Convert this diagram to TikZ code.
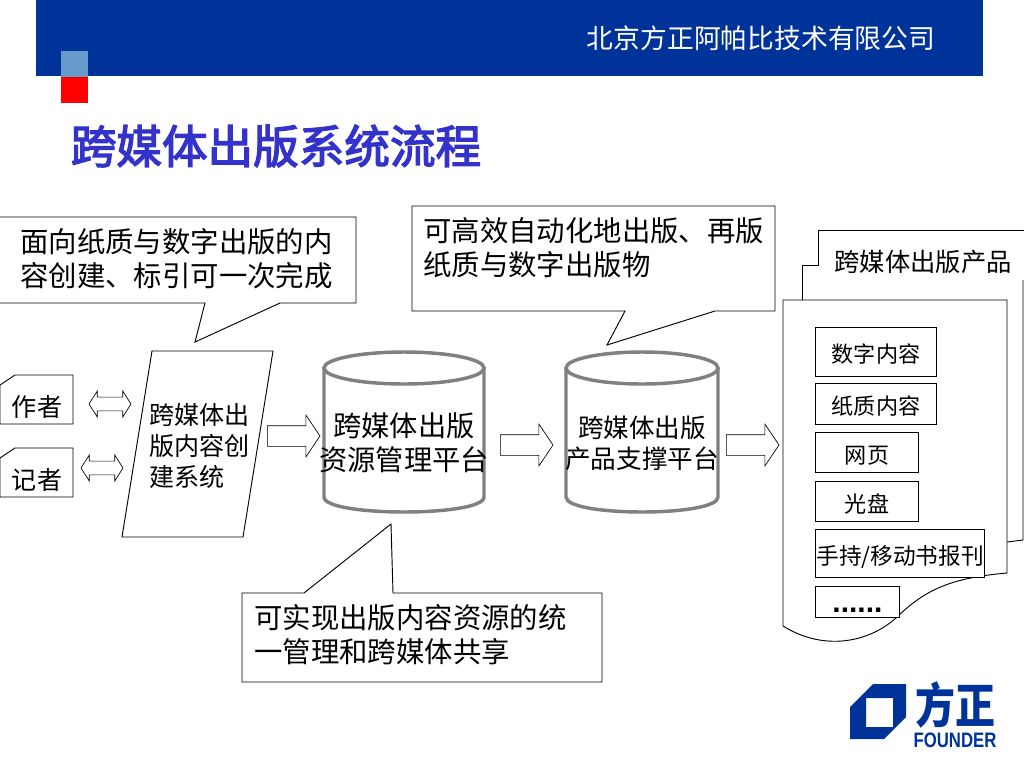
\documentclass[tikz,border=0pt]{standalone}
\usepackage{graphicx}
\usepackage{fontspec}
\setmainfont{Noto Sans CJK SC}
\newfontfamily\logofont{Liberation Sans}
\newfontfamily\titlefont[FakeBold=3]{Noto Sans CJK SC}
\usetikzlibrary{shapes.arrows}
\definecolor{barblue}{RGB}{0,51,153}
\definecolor{lightsq}{RGB}{102,153,204}
\definecolor{titleblue}{RGB}{51,51,204}
\definecolor{cylgray}{RGB}{128,128,128}
\tikzset{
  big/.style={inner sep=0pt,align=left,font=\fontsize{21.3}{25.5}\selectfont},
  mid/.style={inner sep=0pt,align=center,font=\fontsize{19.2}{23.2}\selectfont},
  outline/.style={draw=black,line width=0.7pt,fill=white},
  cylline/.style={draw=cylgray,line width=2.6pt},
  fatarrow/.style={draw=black,line width=0.5pt,fill=white,single arrow,anchor=tail,inner xsep=0pt,inner ysep=7.5pt,
    minimum height=39.5pt,single arrow head extend=8pt,single arrow tip angle=112},
  twoway/.style={draw=black,line width=0.5pt,fill=white,double arrow,anchor=center,inner xsep=0pt,inner ysep=4.9pt,
    minimum height=31.5pt,double arrow head extend=4.5pt,double arrow tip angle=115},
  itembox/.style={draw=black,line width=0.7pt,fill=white,inner sep=0pt,anchor=north west,
    text height=17.9pt,text depth=2pt,font=\fontsize{16.6}{20}\selectfont},
}
\begin{document}
\begin{tikzpicture}[x=0.75pt,y=-0.75pt]
\useasboundingbox (0,0) rectangle (1024,768);
% header
\fill[barblue] (36,0) rectangle (983,76);
\fill[lightsq] (61,51) rectangle (88,77);
\fill[red] (61,77) rectangle (88,103);
\node[inner sep=0pt,text=white,font=\fontsize{20.1}{24}\selectfont] (company) at (761,38) {北京方正阿帕比技术有限公司};
\node[inner sep=0pt,text=titleblue,font=\titlefont\fontsize{34.2}{40}\selectfont] (title) at (276,146) {跨媒体出版系统流程};
% callouts
\draw[outline] (-2,217)--(356,217)--(356,303)--(280,303)--(195,342)--(205,303)--(-2,303)--cycle;
\node[big,anchor=west] (noteA) at (20,259) {面向纸质与数字出版的内\\容创建、标引可一次完成};
\draw[outline] (412,206)--(775,206)--(775,311)--(715,311)--(607,345)--(625,311)--(412,311)--cycle;
\node[big,anchor=west] (noteB) at (423,248) {可高效自动化地出版、再版\\纸质与数字出版物};
\draw[outline] (242,593)--(304,593)--(391,524)--(393,593)--(602,593)--(602,682)--(242,682)--cycle;
\node[big,anchor=west] (noteC) at (254,635) {可实现出版内容资源的统\\一管理和跨媒体共享};
% people
\foreach \y/\who/\nm in {375/作者/author,448/记者/reporter}{
  \draw[outline] (0,\y+10)--(15,\y)--(73,\y)--(73,\y+49)--(0,\y+49)--cycle;
  \node[inner sep=0pt,font=\fontsize{18.8}{22}\selectfont] (\nm) at (37,\y+32) {\who};
}
\node[twoway] (swapA) at (110,404) {};
\node[twoway] (swapB) at (102,468) {};
% creation system
\draw[outline] (152,351)--(273,351)--(243,537)--(122,537)--cycle;
\node[inner sep=0pt,font=\fontsize{18.8}{23}\selectfont,align=left,anchor=west] (create) at (149,446) {跨媒体出\\版内容创\\建系统};
\node[fatarrow] (flowA) at (267,436) {};
% cylinders
\foreach \xa/\xb in {324/484,566/718}{
  \pgfmathsetmacro\xc{(\xa+\xb)/2}
  \pgfmathsetmacro\rx{(\xb-\xa)/2}
  \draw[cylline] (\xa,368)--(\xa,497) .. controls (\xa,517) and (\xb,517) .. (\xb,497)--(\xb,368);
  \draw[cylline] (\xc,368) ellipse [x radius=\rx,y radius=16];
}
\node[inner sep=0pt,align=center,font=\fontsize{21.2}{25.5}\selectfont] (poolA) at (404,443) {跨媒体出版\\资源管理平台};
\node[mid] (poolB) at (642,443) {跨媒体出版\\产品支撑平台};
\node[fatarrow] (flowB) at (500,445) {};
\node[fatarrow] (flowC) at (726,445) {};
% product pages
\draw[outline,fill=none] (1024,230)--(818,230)--(818,265)--(802,265)--(802,300);
\draw[outline,fill=none] (1023,280)--(1023,540)--(1007,542);
\draw[outline] (783,300)--(1007,300)--(1007,573) .. controls (950,578) and (925,590) .. (897,617) .. controls (870,642) and (825,652) .. (783,626)--cycle;
\node[inner sep=0pt,font=\fontsize{19}{23}\selectfont] (products) at (923,262) {跨媒体出版产品};
\node[itembox,minimum width=90.8pt,minimum height=36.7pt] (itemA) at (815,327) {数字内容};
\node[itembox,minimum width=90.8pt,minimum height=30.7pt] (itemB) at (815,383) {纸质内容};
\node[itembox,minimum width=77.3pt,minimum height=30pt] (itemC) at (815,432) {网页};
\node[itembox,minimum width=77.3pt,minimum height=30pt] (itemD) at (815,481) {光盘};
\node[itembox,minimum width=127pt,minimum height=36pt,font=\fontsize{17}{20}\selectfont] (itemE) at (815,529) {手持/移动书报刊};
\node[itembox,minimum width=63pt,minimum height=23.2pt,text height=,text depth=,font=\logofont\fontsize{22.5}{24}\selectfont\bfseries] (itemF) at (815,586) {\smash{\raisebox{-8pt}{......}}};
% logo
\fill[barblue,even odd rule] (850,707)--(873,684)--(906,684)--(906,717)--(884,739)--(850,739)--cycle (866,698) rectangle (893,727);
\node[inner sep=0pt,text=barblue,font=\fontsize{30}{32}\selectfont\bfseries] (logoCn) at (955,705) {\scalebox{1}[1.2]{方正}};
\node[inner sep=0pt,text=barblue,font=\logofont\fontsize{15.7}{17}\selectfont\bfseries] (logoEn) at (955,740) {\scalebox{0.8}[1]{FOUNDER}};
\end{tikzpicture}
\end{document}
